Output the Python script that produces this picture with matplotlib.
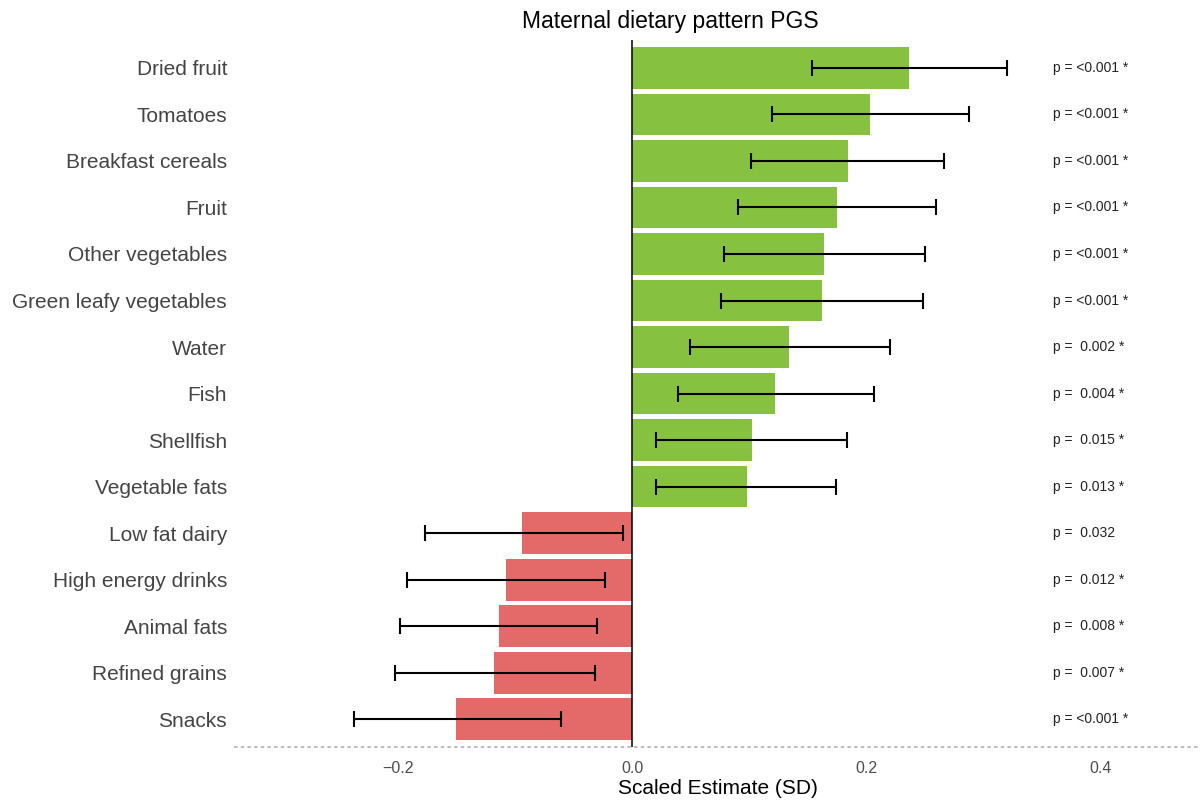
import numpy as np
import matplotlib.pyplot as plt

plt.rcParams['font.family'] = ['Liberation Sans', 'DejaVu Sans']

# food groups, top to bottom
foods = ['Dried fruit', 'Tomatoes', 'Breakfast cereals', 'Fruit', 'Other vegetables',
         'Green leafy vegetables', 'Water', 'Fish', 'Shellfish', 'Vegetable fats',
         'Low fat dairy', 'High energy drinks', 'Animal fats', 'Refined grains', 'Snacks']
est = [0.236, 0.203, 0.184, 0.175, 0.164, 0.162, 0.134, 0.122, 0.102, 0.098,
       -0.094, -0.108, -0.114, -0.118, -0.150]
ci_lo = [0.153, 0.119, 0.101, 0.090, 0.078, 0.076, 0.049, 0.039, 0.020, 0.020,
         -0.177, -0.192, -0.198, -0.202, -0.237]
ci_hi = [0.320, 0.287, 0.266, 0.259, 0.250, 0.248, 0.220, 0.206, 0.183, 0.174,
         -0.008, -0.023, -0.030, -0.032, -0.061]
p_txt = ['<0.001 *', '<0.001 *', '<0.001 *', '<0.001 *', '<0.001 *', '<0.001 *',
         ' 0.002 *', ' 0.004 *', ' 0.015 *', ' 0.013 *',
         ' 0.032', ' 0.012 *', ' 0.008 *', ' 0.007 *', '<0.001 *']

green = '#86c240'
red = '#e46a6a'

fig = plt.figure(figsize=(12.01, 8.01), dpi=100)
ax = fig.add_axes([0.196, 0.0674, 0.804, 0.8826])

y = np.arange(len(foods))[::-1]
est = np.array(est)
cols = [green if e > 0 else red for e in est]
ax.barh(y, est, height=0.9, color=cols, zorder=2)
ax.errorbar(est, y, xerr=[est - np.array(ci_lo), np.array(ci_hi) - est],
            fmt='none', ecolor='black', elinewidth=1.5, capsize=5.5, capthick=1.5, zorder=3)
ax.axvline(0, color='black', lw=1.1, zorder=4)

for yi, t in zip(y, p_txt):
    ax.text(0.359, yi, 'p = ' + t, fontsize=10, va='center', ha='left', color='#222222')

ax.set_xlim(-0.3386, 0.4853)
ax.set_ylim(-0.6, len(foods) - 0.4)
ax.set_yticks(y)
ax.set_yticklabels(foods, fontsize=15, color='#444444')
ax.set_xticks([-0.2, 0.0, 0.2, 0.4])
ax.set_xticklabels(['\u22120.2', '0.0', '0.2', '0.4'], fontsize=11.5, color='#4d4d4d')
ax.tick_params(length=0, pad=10)
ax.tick_params(axis='y', pad=6)

for s in ['top', 'right', 'left']:
    ax.spines[s].set_visible(False)
ax.spines['bottom'].set_linestyle((0, (1, 3)))
ax.spines['bottom'].set_color('#b0b0b0')
ax.spines['bottom'].set_linewidth(1.2)

ax.set_xlabel('Scaled Estimate (SD)', fontsize=15, labelpad=2)
ax.set_title('Maternal dietary pattern PGS', fontsize=16.5, x=0.45, pad=9)

fig.savefig('out.png', dpi=100)
